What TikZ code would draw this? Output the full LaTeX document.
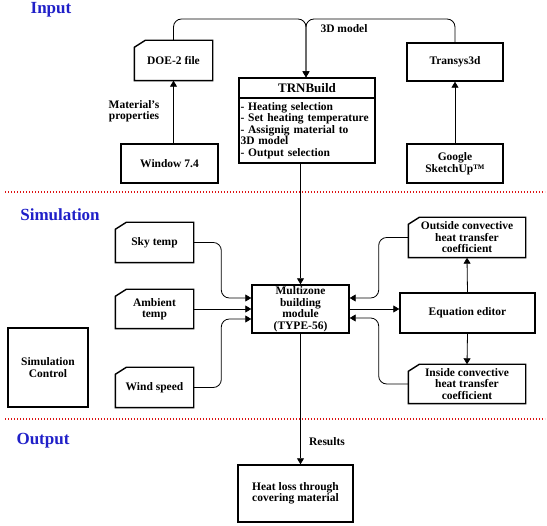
\documentclass[tikz,border=0pt]{standalone}
\usepackage{fontspec}
\setmainfont{Liberation Serif}
\usepackage{tikz}
\usetikzlibrary{arrows.meta}

\definecolor{headblue}{RGB}{32,32,200}
\definecolor{dotred}{RGB}{220,20,20}

\tikzset{
  box/.style={draw, line width=1.4pt, inner sep=0pt, align=center,
    font=\bfseries\fontsize{11.5}{11.5}\selectfont},
  docbox/.style={box, draw=none},
  conn/.style={line width=0.8pt, rounded corners=8pt},
  arr/.style={conn, -{Triangle[width=7pt,length=6pt]}},
  lbl/.style={align=center, font=\bfseries\fontsize{11.5}{11.5}\selectfont},
  heading/.style={text=headblue, font=\bfseries\fontsize{17}{17}\selectfont},
  sep/.style={dotred, line width=1.3pt, dash pattern=on 1.3pt off 1.7pt}
}

\begin{document}
\begin{tikzpicture}[x=1pt, y=-1pt]
    \useasboundingbox (0,0) rectangle (547,526);

    % stages
    \node[heading] (hin) at (51,10) {Input};
    \node[heading] (hsim) at (60,215) {Simulation};
    \node[heading] (hout) at (43,441) {Output};
    \coordinate (s1a) at (5,192);
    \coordinate (s1b) at (545,192);
    \coordinate (s2a) at (5,419);
    \coordinate (s2b) at (545,419);
    \draw[sep] (s1a) -- (s1b);
    \draw[sep] (s2a) -- (s2b);

    % input
    \node[docbox, minimum width=77pt, minimum height=39pt] (doe) at (173.5,60.5) {DOE-2 file};
    \node[box, minimum width=97pt, minimum height=39pt] (win) at (169.5,163.5) {Window 7.4};
    \node[box, minimum width=136pt, minimum height=20pt,
      font=\bfseries\fontsize{13}{13}\selectfont] (trnhead) at (307,88) {TRNBuild};
    \node[box, minimum width=136pt, minimum height=65pt, text width=133pt, align=left]
      (trnbody) at (307,130.5) {- Heating selection\\- Set heating temperature\\- Assignig material to\\3D model\\- Output selection};
    \node[box, minimum width=96pt, minimum height=38pt] (trans) at (455,62) {Transys3d};
    \node[box, minimum width=96pt, minimum height=39pt] (goog) at (455,163.5) {Google\\SketchUp\texttrademark};
    \coordinate (top) at (306,19);

    \draw[arr] (win.north -| doe.south) -- (doe.south);
    \node[lbl] (mat) at (134,111) {Material's\\properties};
    \draw[arr] (goog.north) -- (trans.south);
    \draw[arr] (doe.north) |- (top) -- (trnhead.north -| top);
    \draw[arr] (trans.north) |- (top) -- (trnhead.north -| top);
    \node[lbl] (model) at (344,29) {3D model};

    % simulation
    \node[docbox, minimum width=77pt, minimum height=39pt] (sky) at (154.5,242.5) {Sky temp};
    \node[docbox, minimum width=77pt, minimum height=38pt] (amb) at (154.5,309) {Ambient\\temp};
    \node[docbox, minimum width=77pt, minimum height=39pt] (wind) at (154.5,387.5) {Wind speed};
    \node[box, minimum width=80pt, minimum height=79pt] (simc) at (48,367.5) {Simulation\\Control};
    \node[box, minimum width=97pt, minimum height=48pt] (multi) at (300.5,309) {Multizone\\building\\module\\(TYPE-56)};
    \node[docbox, minimum width=116pt, minimum height=39pt] (outc) at (467,237.5) {Outside convective\\heat transfer\\coefficient};
    \node[box, minimum width=135pt, minimum height=40pt] (eq) at (467.5,313) {Equation editor};
    \node[docbox, minimum width=116pt, minimum height=38pt] (inc) at (467,384) {Inside convective\\heat transfer\\coefficient};

    % cut corner outlines
    \foreach \n in {doe,sky,amb,wind,outc,inc}
      \draw[line width=1.4pt] ([xshift=11pt]\n.north west) -- (\n.north east)
        -- (\n.south east) -- (\n.south west) -- ([yshift=-7pt]\n.north west) -- cycle;

    \draw[arr] (trnbody.south -| multi.north) -- (multi.north);
    \draw[arr] (sky.east) -| ([xshift=-30pt,yshift=11pt]multi.west) -- ([yshift=11pt]multi.west);
    \draw[arr] (amb.east) -- (multi.west);
    \draw[arr] (wind.east) -| ([xshift=-30pt,yshift=-10pt]multi.west) -- ([yshift=-10pt]multi.west);
    \draw[arr] (outc.west) -| ([xshift=29pt,yshift=11pt]multi.east) -- ([yshift=11pt]multi.east);
    \draw[arr] (inc.west) -| ([xshift=29pt,yshift=-9pt]multi.east) -- ([yshift=-9pt]multi.east);
    \draw[arr] (multi.east) -- (multi.east -| eq.west);
    \draw[arr] (eq.north) -- (outc.south);
    \draw[arr] (eq.south) -- (inc.north);

    % output
    \node[box, minimum width=115pt, minimum height=57pt] (heat) at (295.5,493.5) {Heat loss through\\covering material};
    \draw[arr] (multi.south) -- (multi.south |- heat.north);
    \node[lbl] (res) at (327,442) {Results};
\end{tikzpicture}
\end{document}
